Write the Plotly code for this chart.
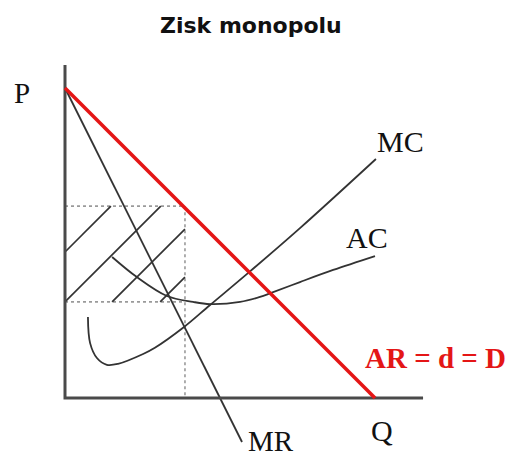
import plotly.graph_objects as go

# ---- data (economic units: Q on x, P on y) ----
demand_q = [0, 10]
demand_p = [10, 0]

mr_q = [0, 5.71]
mr_p = [10, -1.42]

mc_q = [0.74, 0.81, 1.03, 1.35, 1.71, 2.52, 2.90, 3.84, 4.68, 5.94, 7.58, 10.03]
mc_p = [2.61, 1.77, 1.29, 1.07, 1.10, 1.42, 1.62, 2.29, 3.00, 4.06, 5.48, 7.71]

ac_q = [1.52, 2.32, 3.29, 4.13, 4.68, 5.65, 6.29, 6.65, 7.58, 8.65, 10.0]
ac_p = [4.55, 3.90, 3.29, 3.10, 3.03, 3.10, 3.26, 3.39, 3.74, 4.13, 4.58]

q_star = 3.87
p_star = 6.19
ac_star = 3.10

hatch_q0 = [0.00, 0.00, 1.52, 3.07]
hatch_p0 = [4.71, 3.10, 3.10, 3.10]
hatch_q1 = [1.48, 3.09, 3.87, 3.87]
hatch_p1 = [6.19, 6.19, 5.45, 3.90]

axis_q_max = 11.55
axis_p_max = 10.74

labels = ["P", "MC", "AC", "AR = d = D", "Q", "MR"]
title_text = "Zisk monopolu"

# ---- layout helpers ----
W, H = 515, 459
OX, OY, S = 65, 398, 31.0  # pixel origin and pixels per unit


def px(xp):
    return xp / W


def py(yp):
    return 1 - yp / H


fig = go.Figure()

dark = "#333333"
red = "rgb(228,22,22)"
dot = dict(color="#9a9a9a", width=1.6, dash="dot")

# dotted guides
fig.add_trace(go.Scatter(x=[0, q_star, q_star], y=[p_star, p_star, 0], mode="lines", line=dot))
fig.add_trace(go.Scatter(x=[0, q_star], y=[ac_star, ac_star], mode="lines", line=dot))

# hatch
hx, hy = [], []
for a, b, c, d in zip(hatch_q0, hatch_p0, hatch_q1, hatch_p1):
    hx += [a, c, None]
    hy += [b, d, None]
fig.add_trace(go.Scatter(x=hx, y=hy, mode="lines", line=dict(color=dark, width=1.7)))

# cost curves
fig.add_trace(go.Scatter(x=ac_q, y=ac_p, mode="lines", line=dict(color=dark, width=1.8, shape="spline", smoothing=1.0)))
fig.add_trace(go.Scatter(x=mc_q, y=mc_p, mode="lines", line=dict(color=dark, width=1.8, shape="spline", smoothing=1.0)))

# MR
fig.add_trace(go.Scatter(x=mr_q, y=mr_p, mode="lines", line=dict(color=dark, width=1.8)))

# axes
fig.add_trace(go.Scatter(x=[0, 0, axis_q_max], y=[axis_p_max, 0, 0], mode="lines",
                         line=dict(color="#4a4a4a", width=3)))

# demand
fig.add_trace(go.Scatter(x=demand_q, y=demand_p, mode="lines", line=dict(color=red, width=3.6)))

x0 = -OX / S
x1 = (W - OX) / S
y0 = -(H - OY) / S
y1 = OY / S

fig.update_xaxes(range=[x0, x1], visible=False, fixedrange=True)
fig.update_yaxes(range=[y0, y1], visible=False, fixedrange=True)

serif = "Liberation Serif, Times New Roman, serif"
ann = [
    (title_text, 251, 26, dict(family="DejaVu Sans", size=22, color="#111111"), True, "middle"),
    (labels[0], 22, 93, dict(family=serif, size=29, color="#111111"), False, "middle"),
    (labels[1], 400, 142, dict(family=serif, size=30, color="#111111"), False, "middle"),
    (labels[2], 367, 237, dict(family=serif, size=30, color="#111111"), False, "middle"),
    (labels[3], 435, 358, dict(family=serif, size=29, color=red), True, "middle"),
    (labels[4], 382, 430, dict(family=serif, size=30, color="#111111"), False, "middle"),
    (labels[5], 271, 458, dict(family=serif, size=29, color="#111111"), False, "bottom"),
]
for t, xx, yy, f, bold, ya in ann:
    fig.add_annotation(x=px(xx), y=py(yy), xref="paper", yref="paper",
                       text=f"<b>{t}</b>" if bold else t, showarrow=False,
                       xanchor="center", yanchor=ya, font=f, borderpad=0)

fig.update_layout(width=W, height=H, margin=dict(l=0, r=0, t=0, b=0),
                  paper_bgcolor="white", plot_bgcolor="white", showlegend=False)

fig.write_html("out.html", config={"displayModeBar": False},
               post_script="document.body.style.margin='0';document.body.style.overflow='hidden';")
